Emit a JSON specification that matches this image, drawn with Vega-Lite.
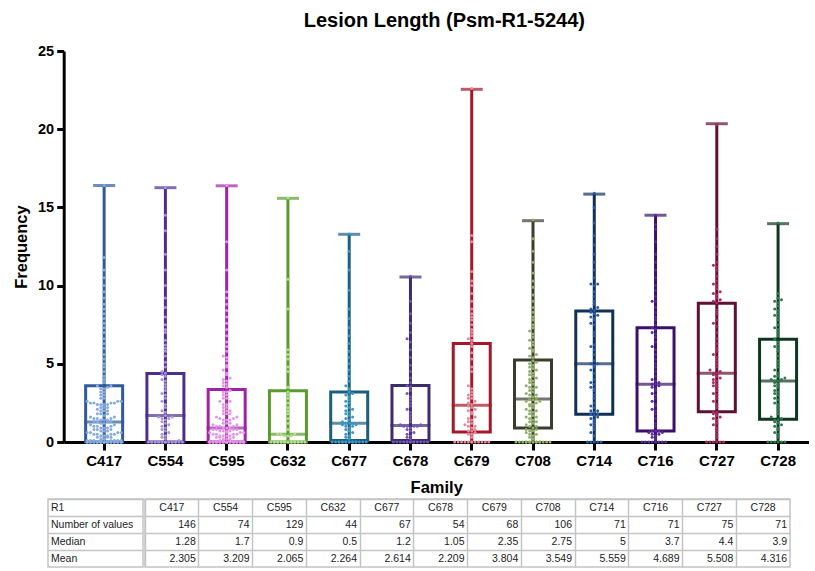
{
  "$schema": "https://vega.github.io/schema/vega-lite/v6.json",
  "background": "white",
  "padding": {"left": 13, "top": 11, "right": 0, "bottom": 0},
  "config": {"view": {"stroke": null}, "font": "Liberation Sans"},
  "spacing": 2,
  "center": false,
  "datasets": {
    "stats": [
      {"family": "C417", "Number of values": 146, "Median": 1.28, "Mean": 2.305, "q1": 0, "q3": 3.6, "min": 0, "max": 16.4},
      {"family": "C554", "Number of values": 74, "Median": 1.7, "Mean": 3.209, "q1": 0, "q3": 4.38, "min": 0, "max": 16.26},
      {"family": "C595", "Number of values": 129, "Median": 0.9, "Mean": 2.065, "q1": 0, "q3": 3.35, "min": 0, "max": 16.38},
      {"family": "C632", "Number of values": 44, "Median": 0.5, "Mean": 2.264, "q1": 0, "q3": 3.28, "min": 0, "max": 15.58},
      {"family": "C677", "Number of values": 67, "Median": 1.2, "Mean": 2.614, "q1": 0.1, "q3": 3.2, "min": 0, "max": 13.28},
      {"family": "C678", "Number of values": 54, "Median": 1.05, "Mean": 2.209, "q1": 0.1, "q3": 3.62, "min": 0, "max": 10.55},
      {"family": "C679", "Number of values": 68, "Median": 2.35, "Mean": 3.804, "q1": 0.64, "q3": 6.3, "min": 0, "max": 22.55},
      {"family": "C708", "Number of values": 106, "Median": 2.75, "Mean": 3.549, "q1": 0.9, "q3": 5.25, "min": 0, "max": 14.15},
      {"family": "C714", "Number of values": 71, "Median": 5, "Mean": 5.559, "q1": 1.77, "q3": 8.38, "min": 0, "max": 15.85},
      {"family": "C716", "Number of values": 71, "Median": 3.7, "Mean": 4.689, "q1": 0.7, "q3": 7.31, "min": 0, "max": 14.5},
      {"family": "C727", "Number of values": 75, "Median": 4.4, "Mean": 5.508, "q1": 1.94, "q3": 8.87, "min": 0, "max": 20.35},
      {"family": "C728", "Number of values": 71, "Median": 3.9, "Mean": 4.316, "q1": 1.45, "q3": 6.57, "min": 0, "max": 13.96}
    ],
    "pts": [
      {"f":"C417","v":0},{"f":"C417","v":0},{"f":"C417","v":0},{"f":"C417","v":0},{"f":"C417","v":0},{"f":"C417","v":0},{"f":"C417","v":0},{"f":"C417","v":0},{"f":"C417","v":0},{"f":"C417","v":0},
      {"f":"C417","v":0},{"f":"C417","v":0},{"f":"C417","v":0},{"f":"C417","v":0},{"f":"C417","v":0},{"f":"C417","v":0},{"f":"C417","v":0},{"f":"C417","v":0},{"f":"C417","v":0},{"f":"C417","v":0},
      {"f":"C417","v":0},{"f":"C417","v":0},{"f":"C417","v":0},{"f":"C417","v":0},{"f":"C417","v":0},{"f":"C417","v":0},{"f":"C417","v":0},{"f":"C417","v":0},{"f":"C417","v":0},{"f":"C417","v":0},
      {"f":"C417","v":0},{"f":"C417","v":0},{"f":"C417","v":0},{"f":"C417","v":0},{"f":"C417","v":0},{"f":"C417","v":0},{"f":"C417","v":0},
      {"f":"C417","v":0.1},{"f":"C417","v":0.1},{"f":"C417","v":0.1},{"f":"C417","v":0.1},{"f":"C417","v":0.1},{"f":"C417","v":0.1},{"f":"C417","v":0.1},
      {"f":"C417","v":0.2},{"f":"C417","v":0.2},{"f":"C417","v":0.3},{"f":"C417","v":0.3},{"f":"C417","v":0.3},{"f":"C417","v":0.4},{"f":"C417","v":0.4},{"f":"C417","v":0.4},
      {"f":"C417","v":0.5},{"f":"C417","v":0.5},{"f":"C417","v":0.5},{"f":"C417","v":0.5},{"f":"C417","v":0.6},{"f":"C417","v":0.6},{"f":"C417","v":0.6},{"f":"C417","v":0.6},
      {"f":"C417","v":0.7},{"f":"C417","v":0.7},{"f":"C417","v":0.7},{"f":"C417","v":0.8},{"f":"C417","v":0.8},{"f":"C417","v":0.8},{"f":"C417","v":0.9},{"f":"C417","v":0.9},{"f":"C417","v":0.9},
      {"f":"C417","v":1},{"f":"C417","v":1},{"f":"C417","v":1},{"f":"C417","v":1.1},{"f":"C417","v":1.1},{"f":"C417","v":1.2},{"f":"C417","v":1.2},
      {"f":"C417","v":1.3},{"f":"C417","v":1.3},{"f":"C417","v":1.3},{"f":"C417","v":1.3},{"f":"C417","v":1.4},{"f":"C417","v":1.4},{"f":"C417","v":1.4},
      {"f":"C417","v":1.5},{"f":"C417","v":1.5},{"f":"C417","v":1.5},{"f":"C417","v":1.6},{"f":"C417","v":1.6},{"f":"C417","v":1.7},
      {"f":"C417","v":1.8},{"f":"C417","v":1.8},{"f":"C417","v":1.8},{"f":"C417","v":2},{"f":"C417","v":2},{"f":"C417","v":2},{"f":"C417","v":2.1},
      {"f":"C417","v":2.2},{"f":"C417","v":2.2},{"f":"C417","v":2.2},{"f":"C417","v":2.4},{"f":"C417","v":2.4},{"f":"C417","v":2.4},{"f":"C417","v":2.4},
      {"f":"C417","v":2.5},{"f":"C417","v":2.5},{"f":"C417","v":2.5},{"f":"C417","v":2.5},{"f":"C417","v":2.6},{"f":"C417","v":2.6},{"f":"C417","v":2.6},
      {"f":"C417","v":2.8},{"f":"C417","v":2.8},{"f":"C417","v":3},{"f":"C417","v":3},{"f":"C417","v":3.2},{"f":"C417","v":3.2},{"f":"C417","v":3.4},{"f":"C417","v":3.4},{"f":"C417","v":3.5},
      {"f":"C417","v":3.6},{"f":"C417","v":3.6},{"f":"C417","v":3.8},{"f":"C417","v":4},{"f":"C417","v":4.2},{"f":"C417","v":4.5},{"f":"C417","v":4.8},{"f":"C417","v":5},{"f":"C417","v":5.3},{"f":"C417","v":5.6},
      {"f":"C417","v":6},{"f":"C417","v":6.3},{"f":"C417","v":6.6},{"f":"C417","v":7},{"f":"C417","v":7.3},{"f":"C417","v":7.6},{"f":"C417","v":7.9},{"f":"C417","v":8.2},{"f":"C417","v":8.5},{"f":"C417","v":8.8},
      {"f":"C417","v":9.2},{"f":"C417","v":9.6},{"f":"C417","v":10},{"f":"C417","v":10.5},{"f":"C417","v":11},{"f":"C417","v":11.8},{"f":"C417","v":16.4},

      {"f":"C554","v":0},{"f":"C554","v":0},{"f":"C554","v":0},{"f":"C554","v":0},{"f":"C554","v":0},{"f":"C554","v":0},{"f":"C554","v":0},{"f":"C554","v":0},{"f":"C554","v":0},{"f":"C554","v":0},
      {"f":"C554","v":0},{"f":"C554","v":0},{"f":"C554","v":0},{"f":"C554","v":0},{"f":"C554","v":0},{"f":"C554","v":0},{"f":"C554","v":0},{"f":"C554","v":0},{"f":"C554","v":0},
      {"f":"C554","v":0.1},{"f":"C554","v":0.2},{"f":"C554","v":0.3},{"f":"C554","v":0.4},{"f":"C554","v":0.5},{"f":"C554","v":0.6},{"f":"C554","v":0.7},{"f":"C554","v":0.8},{"f":"C554","v":0.9},
      {"f":"C554","v":1},{"f":"C554","v":1.1},{"f":"C554","v":1.2},{"f":"C554","v":1.3},{"f":"C554","v":1.4},{"f":"C554","v":1.5},{"f":"C554","v":1.5},{"f":"C554","v":1.6},{"f":"C554","v":1.6},
      {"f":"C554","v":1.7},{"f":"C554","v":1.9},{"f":"C554","v":2},{"f":"C554","v":2.2},{"f":"C554","v":2.4},{"f":"C554","v":2.6},{"f":"C554","v":2.8},{"f":"C554","v":3},{"f":"C554","v":3.1},
      {"f":"C554","v":3.3},{"f":"C554","v":3.5},{"f":"C554","v":3.7},{"f":"C554","v":3.9},{"f":"C554","v":4},{"f":"C554","v":4.2},{"f":"C554","v":4.3},{"f":"C554","v":4.4},
      {"f":"C554","v":4.5},{"f":"C554","v":4.8},{"f":"C554","v":5.1},{"f":"C554","v":5.5},{"f":"C554","v":5.8},{"f":"C554","v":6},{"f":"C554","v":6.2},{"f":"C554","v":6.5},{"f":"C554","v":7},{"f":"C554","v":7.2},
      {"f":"C554","v":7.5},{"f":"C554","v":8},{"f":"C554","v":8.6},{"f":"C554","v":9.2},{"f":"C554","v":10},{"f":"C554","v":11},{"f":"C554","v":12},{"f":"C554","v":13.5},{"f":"C554","v":14.5},{"f":"C554","v":16.25},

      {"f":"C595","v":0},{"f":"C595","v":0},{"f":"C595","v":0},{"f":"C595","v":0},{"f":"C595","v":0},{"f":"C595","v":0},{"f":"C595","v":0},{"f":"C595","v":0},{"f":"C595","v":0},{"f":"C595","v":0},
      {"f":"C595","v":0},{"f":"C595","v":0},{"f":"C595","v":0},{"f":"C595","v":0},{"f":"C595","v":0},{"f":"C595","v":0},{"f":"C595","v":0},{"f":"C595","v":0},{"f":"C595","v":0},{"f":"C595","v":0},
      {"f":"C595","v":0},{"f":"C595","v":0},{"f":"C595","v":0},{"f":"C595","v":0},{"f":"C595","v":0},{"f":"C595","v":0},{"f":"C595","v":0},{"f":"C595","v":0},{"f":"C595","v":0},{"f":"C595","v":0},
      {"f":"C595","v":0},{"f":"C595","v":0},{"f":"C595","v":0},{"f":"C595","v":0},
      {"f":"C595","v":0.1},{"f":"C595","v":0.1},{"f":"C595","v":0.1},{"f":"C595","v":0.2},{"f":"C595","v":0.2},{"f":"C595","v":0.2},{"f":"C595","v":0.3},{"f":"C595","v":0.3},{"f":"C595","v":0.3},
      {"f":"C595","v":0.4},{"f":"C595","v":0.4},{"f":"C595","v":0.4},{"f":"C595","v":0.4},{"f":"C595","v":0.5},{"f":"C595","v":0.5},{"f":"C595","v":0.5},{"f":"C595","v":0.5},
      {"f":"C595","v":0.6},{"f":"C595","v":0.6},{"f":"C595","v":0.6},{"f":"C595","v":0.6},{"f":"C595","v":0.7},{"f":"C595","v":0.7},{"f":"C595","v":0.7},{"f":"C595","v":0.7},
      {"f":"C595","v":0.8},{"f":"C595","v":0.8},{"f":"C595","v":0.8},{"f":"C595","v":0.8},{"f":"C595","v":0.9},{"f":"C595","v":0.9},{"f":"C595","v":0.9},
      {"f":"C595","v":1},{"f":"C595","v":1},{"f":"C595","v":1},{"f":"C595","v":1.1},{"f":"C595","v":1.1},{"f":"C595","v":1.2},{"f":"C595","v":1.2},{"f":"C595","v":1.2},
      {"f":"C595","v":1.4},{"f":"C595","v":1.4},{"f":"C595","v":1.4},{"f":"C595","v":1.5},{"f":"C595","v":1.5},{"f":"C595","v":1.6},{"f":"C595","v":1.6},
      {"f":"C595","v":1.8},{"f":"C595","v":1.8},{"f":"C595","v":1.8},{"f":"C595","v":2},{"f":"C595","v":2},{"f":"C595","v":2},{"f":"C595","v":2.2},{"f":"C595","v":2.2},
      {"f":"C595","v":2.4},{"f":"C595","v":2.4},{"f":"C595","v":2.6},{"f":"C595","v":2.6},{"f":"C595","v":2.8},{"f":"C595","v":2.8},{"f":"C595","v":3},{"f":"C595","v":3},{"f":"C595","v":3.2},{"f":"C595","v":3.2},{"f":"C595","v":3.3},
      {"f":"C595","v":3.5},{"f":"C595","v":3.6},{"f":"C595","v":3.7},{"f":"C595","v":3.8},{"f":"C595","v":3.9},{"f":"C595","v":4},{"f":"C595","v":4.1},{"f":"C595","v":4.3},{"f":"C595","v":4.4},{"f":"C595","v":4.6},
      {"f":"C595","v":4.8},{"f":"C595","v":4.9},{"f":"C595","v":5.2},{"f":"C595","v":5.4},{"f":"C595","v":5.5},{"f":"C595","v":5.8},{"f":"C595","v":6.1},{"f":"C595","v":6.4},{"f":"C595","v":6.8},{"f":"C595","v":7.2},
      {"f":"C595","v":7.6},{"f":"C595","v":8},{"f":"C595","v":8.4},{"f":"C595","v":8.8},{"f":"C595","v":9.2},{"f":"C595","v":9.6},{"f":"C595","v":11},{"f":"C595","v":12.8},{"f":"C595","v":16.4},

      {"f":"C632","v":0},{"f":"C632","v":0},{"f":"C632","v":0},{"f":"C632","v":0},{"f":"C632","v":0},{"f":"C632","v":0},{"f":"C632","v":0},{"f":"C632","v":0},{"f":"C632","v":0},{"f":"C632","v":0},
      {"f":"C632","v":0},{"f":"C632","v":0},{"f":"C632","v":0},{"f":"C632","v":0},{"f":"C632","v":0},{"f":"C632","v":0},{"f":"C632","v":0},{"f":"C632","v":0},{"f":"C632","v":0},
      {"f":"C632","v":0.4},{"f":"C632","v":0.4},{"f":"C632","v":0.4},{"f":"C632","v":0.5},{"f":"C632","v":0.5},{"f":"C632","v":0.5},
      {"f":"C632","v":0.8},{"f":"C632","v":1.2},{"f":"C632","v":1.5},{"f":"C632","v":1.8},{"f":"C632","v":2},{"f":"C632","v":2.2},{"f":"C632","v":2.5},{"f":"C632","v":2.8},{"f":"C632","v":3},{"f":"C632","v":3.2},
      {"f":"C632","v":3.5},{"f":"C632","v":4.5},{"f":"C632","v":4.8},{"f":"C632","v":5.3},{"f":"C632","v":5.6},{"f":"C632","v":5.9},{"f":"C632","v":8.5},{"f":"C632","v":10.4},{"f":"C632","v":15.6},

      {"f":"C677","v":0},{"f":"C677","v":0},{"f":"C677","v":0},{"f":"C677","v":0},{"f":"C677","v":0},{"f":"C677","v":0},{"f":"C677","v":0},{"f":"C677","v":0},{"f":"C677","v":0},{"f":"C677","v":0},
      {"f":"C677","v":0},{"f":"C677","v":0},{"f":"C677","v":0},{"f":"C677","v":0},{"f":"C677","v":0},{"f":"C677","v":0},{"f":"C677","v":0},
      {"f":"C677","v":0.2},{"f":"C677","v":0.3},{"f":"C677","v":0.4},{"f":"C677","v":0.5},{"f":"C677","v":0.6},{"f":"C677","v":0.7},{"f":"C677","v":0.8},{"f":"C677","v":0.9},
      {"f":"C677","v":1},{"f":"C677","v":1},{"f":"C677","v":1.1},{"f":"C677","v":1.1},{"f":"C677","v":1.2},{"f":"C677","v":1.2},{"f":"C677","v":1.2},{"f":"C677","v":1.3},
      {"f":"C677","v":1.4},{"f":"C677","v":1.5},{"f":"C677","v":1.6},{"f":"C677","v":1.7},{"f":"C677","v":1.8},{"f":"C677","v":1.9},{"f":"C677","v":2},{"f":"C677","v":2.1},{"f":"C677","v":2.2},
      {"f":"C677","v":2.3},{"f":"C677","v":2.5},{"f":"C677","v":2.6},{"f":"C677","v":2.7},{"f":"C677","v":2.9},{"f":"C677","v":3},{"f":"C677","v":3.1},{"f":"C677","v":3.2},
      {"f":"C677","v":3.4},{"f":"C677","v":3.6},{"f":"C677","v":3.9},{"f":"C677","v":4.2},{"f":"C677","v":4.6},{"f":"C677","v":5},{"f":"C677","v":5.4},{"f":"C677","v":5.8},{"f":"C677","v":6.3},
      {"f":"C677","v":6.8},{"f":"C677","v":7.3},{"f":"C677","v":7.9},{"f":"C677","v":8.5},{"f":"C677","v":9.7},{"f":"C677","v":11},{"f":"C677","v":12.2},{"f":"C677","v":13.3},

      {"f":"C678","v":0},{"f":"C678","v":0},{"f":"C678","v":0},{"f":"C678","v":0},{"f":"C678","v":0},{"f":"C678","v":0},{"f":"C678","v":0},{"f":"C678","v":0},{"f":"C678","v":0},{"f":"C678","v":0},
      {"f":"C678","v":0},{"f":"C678","v":0},{"f":"C678","v":0},{"f":"C678","v":0},
      {"f":"C678","v":0.2},{"f":"C678","v":0.3},{"f":"C678","v":0.4},{"f":"C678","v":0.5},{"f":"C678","v":0.6},{"f":"C678","v":0.7},{"f":"C678","v":0.8},{"f":"C678","v":0.9},
      {"f":"C678","v":1},{"f":"C678","v":1},{"f":"C678","v":1},{"f":"C678","v":1},{"f":"C678","v":1.1},{"f":"C678","v":1.1},
      {"f":"C678","v":1.3},{"f":"C678","v":1.5},{"f":"C678","v":1.7},{"f":"C678","v":1.9},{"f":"C678","v":2.1},{"f":"C678","v":2.3},{"f":"C678","v":2.5},{"f":"C678","v":2.7},{"f":"C678","v":2.9},
      {"f":"C678","v":3.1},{"f":"C678","v":3.3},{"f":"C678","v":3.5},{"f":"C678","v":3.6},
      {"f":"C678","v":3.8},{"f":"C678","v":4.1},{"f":"C678","v":4.5},{"f":"C678","v":4.9},{"f":"C678","v":5.4},{"f":"C678","v":5.9},{"f":"C678","v":6.4},{"f":"C678","v":6.6},{"f":"C678","v":7},
      {"f":"C678","v":7.6},{"f":"C678","v":8.2},{"f":"C678","v":9},{"f":"C678","v":10.6},

      {"f":"C679","v":0},{"f":"C679","v":0},{"f":"C679","v":0},{"f":"C679","v":0},{"f":"C679","v":0},{"f":"C679","v":0},{"f":"C679","v":0},{"f":"C679","v":0},{"f":"C679","v":0},{"f":"C679","v":0},
      {"f":"C679","v":0},{"f":"C679","v":0},
      {"f":"C679","v":0.3},{"f":"C679","v":0.5},{"f":"C679","v":0.5},{"f":"C679","v":0.6},{"f":"C679","v":0.7},{"f":"C679","v":0.7},
      {"f":"C679","v":0.8},{"f":"C679","v":0.9},{"f":"C679","v":1},{"f":"C679","v":1},{"f":"C679","v":1.1},{"f":"C679","v":1.2},{"f":"C679","v":1.3},{"f":"C679","v":1.4},
      {"f":"C679","v":1.5},{"f":"C679","v":1.6},{"f":"C679","v":1.8},{"f":"C679","v":1.9},{"f":"C679","v":2},{"f":"C679","v":2.1},{"f":"C679","v":2.2},{"f":"C679","v":2.3},
      {"f":"C679","v":2.4},{"f":"C679","v":2.5},{"f":"C679","v":2.6},{"f":"C679","v":2.8},{"f":"C679","v":2.8},{"f":"C679","v":3},{"f":"C679","v":3},{"f":"C679","v":3.2},
      {"f":"C679","v":3.4},{"f":"C679","v":3.6},{"f":"C679","v":4.5},{"f":"C679","v":4.8},{"f":"C679","v":5.3},{"f":"C679","v":5.7},{"f":"C679","v":6.1},{"f":"C679","v":6.3},
      {"f":"C679","v":6.5},{"f":"C679","v":6.6},{"f":"C679","v":6.8},{"f":"C679","v":7},{"f":"C679","v":7.2},{"f":"C679","v":7.5},{"f":"C679","v":7.8},{"f":"C679","v":8},{"f":"C679","v":8.2},
      {"f":"C679","v":8.5},{"f":"C679","v":9},{"f":"C679","v":9.5},{"f":"C679","v":10},{"f":"C679","v":10.3},{"f":"C679","v":10.9},{"f":"C679","v":12.8},{"f":"C679","v":13.2},{"f":"C679","v":22.6},

      {"f":"C708","v":0},{"f":"C708","v":0},{"f":"C708","v":0},{"f":"C708","v":0},{"f":"C708","v":0},{"f":"C708","v":0},{"f":"C708","v":0},{"f":"C708","v":0},{"f":"C708","v":0},{"f":"C708","v":0},
      {"f":"C708","v":0},{"f":"C708","v":0},{"f":"C708","v":0},{"f":"C708","v":0},{"f":"C708","v":0},{"f":"C708","v":0},
      {"f":"C708","v":0.2},{"f":"C708","v":0.3},{"f":"C708","v":0.4},{"f":"C708","v":0.5},{"f":"C708","v":0.5},{"f":"C708","v":0.6},{"f":"C708","v":0.7},{"f":"C708","v":0.7},{"f":"C708","v":0.8},{"f":"C708","v":0.8},{"f":"C708","v":0.9},
      {"f":"C708","v":1},{"f":"C708","v":1},{"f":"C708","v":1.1},{"f":"C708","v":1.2},{"f":"C708","v":1.3},{"f":"C708","v":1.3},{"f":"C708","v":1.4},{"f":"C708","v":1.5},{"f":"C708","v":1.6},{"f":"C708","v":1.6},
      {"f":"C708","v":1.7},{"f":"C708","v":1.8},{"f":"C708","v":1.9},{"f":"C708","v":2},{"f":"C708","v":2},{"f":"C708","v":2.1},{"f":"C708","v":2.2},{"f":"C708","v":2.3},{"f":"C708","v":2.4},{"f":"C708","v":2.4},
      {"f":"C708","v":2.5},{"f":"C708","v":2.6},{"f":"C708","v":2.6},{"f":"C708","v":2.7},{"f":"C708","v":2.7},{"f":"C708","v":2.8},
      {"f":"C708","v":2.9},{"f":"C708","v":3},{"f":"C708","v":3},{"f":"C708","v":3.1},{"f":"C708","v":3.2},{"f":"C708","v":3.3},{"f":"C708","v":3.4},{"f":"C708","v":3.5},{"f":"C708","v":3.5},{"f":"C708","v":3.6},
      {"f":"C708","v":3.7},{"f":"C708","v":3.8},{"f":"C708","v":3.9},{"f":"C708","v":4},{"f":"C708","v":4.1},{"f":"C708","v":4.2},{"f":"C708","v":4.3},{"f":"C708","v":4.4},{"f":"C708","v":4.5},{"f":"C708","v":4.6},
      {"f":"C708","v":4.7},{"f":"C708","v":4.8},{"f":"C708","v":4.9},{"f":"C708","v":5},{"f":"C708","v":5.1},{"f":"C708","v":5.2},
      {"f":"C708","v":5.4},{"f":"C708","v":5.5},{"f":"C708","v":5.6},{"f":"C708","v":5.8},{"f":"C708","v":5.9},{"f":"C708","v":6},{"f":"C708","v":6.2},{"f":"C708","v":6.4},{"f":"C708","v":6.5},{"f":"C708","v":6.7},
      {"f":"C708","v":6.9},{"f":"C708","v":7.1},{"f":"C708","v":7.3},{"f":"C708","v":7.5},{"f":"C708","v":7.8},{"f":"C708","v":8},{"f":"C708","v":8.3},{"f":"C708","v":8.6},{"f":"C708","v":9},{"f":"C708","v":9.4},
      {"f":"C708","v":9.9},{"f":"C708","v":10.3},{"f":"C708","v":10.8},{"f":"C708","v":11.5},{"f":"C708","v":12.2},{"f":"C708","v":13},{"f":"C708","v":14.2},

      {"f":"C714","v":0},{"f":"C714","v":0},{"f":"C714","v":0},{"f":"C714","v":0},{"f":"C714","v":0},
      {"f":"C714","v":0.4},{"f":"C714","v":0.6},{"f":"C714","v":0.8},{"f":"C714","v":1},{"f":"C714","v":1.1},{"f":"C714","v":1.2},{"f":"C714","v":1.4},{"f":"C714","v":1.5},{"f":"C714","v":1.6},{"f":"C714","v":1.7},{"f":"C714","v":1.8},{"f":"C714","v":1.8},
      {"f":"C714","v":1.9},{"f":"C714","v":2},{"f":"C714","v":2},{"f":"C714","v":2.2},{"f":"C714","v":2.3},{"f":"C714","v":2.5},{"f":"C714","v":2.8},{"f":"C714","v":3},{"f":"C714","v":3.3},{"f":"C714","v":3.4},
      {"f":"C714","v":3.5},{"f":"C714","v":3.7},{"f":"C714","v":3.8},{"f":"C714","v":4},{"f":"C714","v":4.4},{"f":"C714","v":4.6},{"f":"C714","v":4.8},{"f":"C714","v":4.9},{"f":"C714","v":5},
      {"f":"C714","v":5},{"f":"C714","v":5.2},{"f":"C714","v":5.6},{"f":"C714","v":5.9},{"f":"C714","v":6.1},{"f":"C714","v":6.2},{"f":"C714","v":6.8},{"f":"C714","v":7},{"f":"C714","v":7.5},
      {"f":"C714","v":7.6},{"f":"C714","v":7.8},{"f":"C714","v":7.9},{"f":"C714","v":8},{"f":"C714","v":8.1},{"f":"C714","v":8.2},{"f":"C714","v":8.3},{"f":"C714","v":8.4},
      {"f":"C714","v":8.5},{"f":"C714","v":8.6},{"f":"C714","v":8.8},{"f":"C714","v":9},{"f":"C714","v":9.3},{"f":"C714","v":9.6},{"f":"C714","v":10},{"f":"C714","v":10.1},{"f":"C714","v":10.1},
      {"f":"C714","v":10.5},{"f":"C714","v":11},{"f":"C714","v":11.5},{"f":"C714","v":12},{"f":"C714","v":12.6},{"f":"C714","v":13.2},{"f":"C714","v":14},{"f":"C714","v":15},{"f":"C714","v":15.9},

      {"f":"C716","v":0},{"f":"C716","v":0},{"f":"C716","v":0},{"f":"C716","v":0},{"f":"C716","v":0},{"f":"C716","v":0},{"f":"C716","v":0},{"f":"C716","v":0},
      {"f":"C716","v":0.2},{"f":"C716","v":0.3},{"f":"C716","v":0.4},{"f":"C716","v":0.5},{"f":"C716","v":0.5},{"f":"C716","v":0.6},{"f":"C716","v":0.6},{"f":"C716","v":0.7},{"f":"C716","v":0.7},{"f":"C716","v":0.7},
      {"f":"C716","v":1},{"f":"C716","v":1.2},{"f":"C716","v":1.5},{"f":"C716","v":1.8},{"f":"C716","v":2},{"f":"C716","v":2.1},{"f":"C716","v":2.3},{"f":"C716","v":2.4},{"f":"C716","v":2.6},
      {"f":"C716","v":2.8},{"f":"C716","v":3},{"f":"C716","v":3.1},{"f":"C716","v":3.3},{"f":"C716","v":3.4},{"f":"C716","v":3.5},{"f":"C716","v":3.6},{"f":"C716","v":3.7},{"f":"C716","v":3.7},
      {"f":"C716","v":3.8},{"f":"C716","v":3.9},{"f":"C716","v":4},{"f":"C716","v":4.2},{"f":"C716","v":4.5},{"f":"C716","v":4.8},{"f":"C716","v":5},{"f":"C716","v":5.3},{"f":"C716","v":5.6},
      {"f":"C716","v":5.9},{"f":"C716","v":6.1},{"f":"C716","v":6.4},{"f":"C716","v":6.7},{"f":"C716","v":6.9},{"f":"C716","v":7},{"f":"C716","v":7.2},{"f":"C716","v":7.3},
      {"f":"C716","v":7.5},{"f":"C716","v":7.8},{"f":"C716","v":8},{"f":"C716","v":8.3},{"f":"C716","v":8.6},{"f":"C716","v":9},{"f":"C716","v":9},{"f":"C716","v":9.3},{"f":"C716","v":9.7},
      {"f":"C716","v":10},{"f":"C716","v":10.5},{"f":"C716","v":11},{"f":"C716","v":11.5},{"f":"C716","v":12},{"f":"C716","v":12.8},{"f":"C716","v":13.6},{"f":"C716","v":13.9},{"f":"C716","v":14.5},

      {"f":"C727","v":0},{"f":"C727","v":0},{"f":"C727","v":0},{"f":"C727","v":0},{"f":"C727","v":0},{"f":"C727","v":0},
      {"f":"C727","v":0.3},{"f":"C727","v":0.5},{"f":"C727","v":0.7},{"f":"C727","v":0.9},{"f":"C727","v":1.1},{"f":"C727","v":1.2},{"f":"C727","v":1.4},{"f":"C727","v":1.5},{"f":"C727","v":1.6},
      {"f":"C727","v":1.7},{"f":"C727","v":1.8},{"f":"C727","v":1.9},{"f":"C727","v":1.9},
      {"f":"C727","v":2.2},{"f":"C727","v":2.4},{"f":"C727","v":2.6},{"f":"C727","v":2.8},{"f":"C727","v":3},{"f":"C727","v":3.1},{"f":"C727","v":3.3},{"f":"C727","v":3.5},{"f":"C727","v":3.6},
      {"f":"C727","v":3.7},{"f":"C727","v":3.8},{"f":"C727","v":3.9},{"f":"C727","v":4},{"f":"C727","v":4.1},{"f":"C727","v":4.2},{"f":"C727","v":4.3},{"f":"C727","v":4.4},{"f":"C727","v":4.4},
      {"f":"C727","v":4.5},{"f":"C727","v":4.6},{"f":"C727","v":4.8},{"f":"C727","v":5},{"f":"C727","v":5.2},{"f":"C727","v":5.4},{"f":"C727","v":5.6},{"f":"C727","v":5.8},{"f":"C727","v":6},
      {"f":"C727","v":6.3},{"f":"C727","v":6.6},{"f":"C727","v":7},{"f":"C727","v":7.4},{"f":"C727","v":7.6},{"f":"C727","v":7.8},{"f":"C727","v":8.2},{"f":"C727","v":8.4},{"f":"C727","v":8.9},
      {"f":"C727","v":9},{"f":"C727","v":9.1},{"f":"C727","v":9.2},{"f":"C727","v":9.4},{"f":"C727","v":9.5},{"f":"C727","v":9.6},{"f":"C727","v":9.8},{"f":"C727","v":10},{"f":"C727","v":10.1},{"f":"C727","v":10.3},
      {"f":"C727","v":10.6},{"f":"C727","v":11},{"f":"C727","v":11.2},{"f":"C727","v":11.3},{"f":"C727","v":11.5},{"f":"C727","v":12},{"f":"C727","v":12.5},{"f":"C727","v":13},{"f":"C727","v":13.6},{"f":"C727","v":20.3},

      {"f":"C728","v":0},{"f":"C728","v":0},{"f":"C728","v":0},{"f":"C728","v":0},{"f":"C728","v":0},{"f":"C728","v":0},
      {"f":"C728","v":0.3},{"f":"C728","v":0.5},{"f":"C728","v":0.6},{"f":"C728","v":0.8},{"f":"C728","v":0.9},{"f":"C728","v":1},{"f":"C728","v":1.1},{"f":"C728","v":1.2},{"f":"C728","v":1.3},
      {"f":"C728","v":1.4},{"f":"C728","v":1.4},{"f":"C728","v":1.5},
      {"f":"C728","v":1.6},{"f":"C728","v":1.8},{"f":"C728","v":2},{"f":"C728","v":2.2},{"f":"C728","v":2.4},{"f":"C728","v":2.5},{"f":"C728","v":2.7},{"f":"C728","v":2.8},{"f":"C728","v":3},
      {"f":"C728","v":3.1},{"f":"C728","v":3.2},{"f":"C728","v":3.3},{"f":"C728","v":3.5},{"f":"C728","v":3.6},{"f":"C728","v":3.7},{"f":"C728","v":3.8},{"f":"C728","v":3.9},{"f":"C728","v":3.9},
      {"f":"C728","v":4},{"f":"C728","v":4},{"f":"C728","v":4.1},{"f":"C728","v":4.2},{"f":"C728","v":4.2},{"f":"C728","v":4.4},{"f":"C728","v":4.6},{"f":"C728","v":4.8},{"f":"C728","v":5},
      {"f":"C728","v":5.2},{"f":"C728","v":5.5},{"f":"C728","v":5.8},{"f":"C728","v":6},{"f":"C728","v":6.1},{"f":"C728","v":6.2},{"f":"C728","v":6.4},{"f":"C728","v":6.6},
      {"f":"C728","v":6.8},{"f":"C728","v":7},{"f":"C728","v":7.2},{"f":"C728","v":7.3},{"f":"C728","v":7.5},{"f":"C728","v":7.8},{"f":"C728","v":8},{"f":"C728","v":8.1},{"f":"C728","v":8.2},
      {"f":"C728","v":8.4},{"f":"C728","v":8.5},{"f":"C728","v":8.7},{"f":"C728","v":8.9},{"f":"C728","v":9},{"f":"C728","v":9.1},{"f":"C728","v":9.2},{"f":"C728","v":9.5},{"f":"C728","v":14}
    ]
  },
  "vconcat": [
    {
      "width": 760.7,
      "height": 391,
      "title": {"text": "Lesion Length (Psm-R1-5244)", "font": "Liberation Sans", "fontSize": 20, "fontWeight": "bold", "color": "black", "anchor": "middle", "frame": "group", "dx": 16, "offset": 12},
      "data": {"name": "stats"},
      "encoding": {
        "x": {
          "field": "family", "type": "nominal",
          "scale": {"type": "band", "domain": ["C417","C554","C595","C632","C677","C678","C679","C708","C714","C716","C727","C728"], "range": [15.7, 760.7], "paddingInner": 0, "paddingOuter": 0.08, "align": 1},
          "axis": {"title": "Family", "labelAngle": 0, "domainWidth": 3, "domainColor": "black", "tickWidth": 3, "tickColor": "black", "tickSize": 8, "labelFont": "Liberation Sans", "labelFontSize": 15, "labelFontWeight": "bold", "labelColor": "black", "labelPadding": 3, "titleFont": "Liberation Sans", "titleFontSize": 16.5, "titleFontWeight": "bold", "titleColor": "black", "titlePadding": 11}
        }
      },
      "layer": [
        {
          "mark": {"type": "rule", "strokeWidth": 3},
          "encoding": {
            "y": {"field": "min", "type": "quantitative", "scale": {"domain": [0, 25], "nice": false}, "axis": {"title": "Frequency", "offset": -15.7, "values": [0, 5, 10, 15, 20, 25], "grid": false, "domainWidth": 3, "domainColor": "black", "tickWidth": 3, "tickColor": "black", "tickSize": 7, "labelFont": "Liberation Sans", "labelFontSize": 14.5, "labelFontWeight": "bold", "labelColor": "black", "labelPadding": 3, "titleFont": "Liberation Sans", "titleFontSize": 16.5, "titleFontWeight": "bold", "titleColor": "black", "titlePadding": 8}},
            "y2": {"field": "max"},
            "color": {"field": "family", "type": "nominal", "legend": null, "scale": {"domain": ["C417","C554","C595","C632","C677","C678","C679","C708","C714","C716","C727","C728"], "range": ["#2f5b9c","#4b2f8e","#a022a6","#5a9c2c","#1c5e7e","#3c2c6c","#a3182a","#3a3c30","#0f3158","#3a1068","#5e1035","#0f3620"]}}
          }
        },
        {
          "mark": {"type": "bar", "filled": false, "strokeWidth": 3, "size": 37},
          "encoding": {
            "y": {"field": "q1", "type": "quantitative"},
            "y2": {"field": "q3"},
            "color": {"field": "family", "type": "nominal", "legend": null}
          }
        },
        {
          "mark": {"type": "tick", "thickness": 3, "size": 40},
          "encoding": {
            "y": {"field": "Median", "type": "quantitative"},
            "color": {"field": "family", "type": "nominal", "legend": null}
          }
        },
        {
          "mark": {"type": "tick", "thickness": 3, "size": 22},
          "encoding": {
            "y": {"field": "max", "type": "quantitative"},
            "color": {"field": "family", "type": "nominal", "legend": null}
          }
        },
        {
          "data": {"name": "pts"},
          "transform": [
            {"calculate": "round(datum.v*4)", "as": "bin"},
            {"window": [{"op": "row_number", "as": "k"}], "groupby": ["f", "bin"]},
            {"calculate": "(datum.k-1)%11", "as": "m"},
            {"calculate": "(datum.m%2==0?1:-1)*ceil(datum.m/2)*3.4", "as": "jit"}
          ],
          "mark": {"type": "point", "filled": true, "size": 9, "opacity": 1, "strokeWidth": 0},
          "encoding": {
            "x": {"field": "f", "type": "nominal"},
            "xOffset": {"field": "jit", "type": "quantitative", "scale": {"domain": [-30.6, 30.6]}},
            "y": {"field": "v", "type": "quantitative"},
            "fill": {"field": "f", "type": "nominal", "legend": null, "scale": {"domain": ["C417","C554","C595","C632","C677","C678","C679","C708","C714","C716","C727","C728"], "range": ["#86aade","#a994dc","#e496e6","#b4dc8c","#3a98c6","#7456b8","#e8889a","#90b264","#2e5aa6","#5a2c9e","#ac2a5e","#2c7a4c"]}}
          }
        }
      ]
    },
    {
      "spacing": 0,
      "hconcat": [
        {
          "width": 95,
          "height": 68,
          "view": {"stroke": "#c4c4c4", "strokeWidth": 1.5},
          "data": {"values": [{"r": "R1"}, {"r": "Number of values"}, {"r": "Median"}, {"r": "Mean"}]},
          "mark": {"type": "text", "align": "left", "dx": 3, "font": "Liberation Sans", "fontSize": 10.5, "color": "#222222"},
          "encoding": {
            "y": {"field": "r", "type": "nominal", "scale": {"type": "band", "domain": ["R1", "Number of values", "Median", "Mean"], "paddingInner": 0, "paddingOuter": 0}, "axis": {"title": null, "labels": false, "ticks": false, "domain": false, "grid": true, "bandPosition": 0, "gridColor": "#c4c4c4", "gridWidth": 1.5, "gridOpacity": 1, "minExtent": 0, "maxExtent": 0}},
            "x": {"datum": "lab", "type": "nominal", "bandPosition": 0, "scale": {"type": "band", "paddingInner": 0, "paddingOuter": 0}, "axis": null},
            "text": {"field": "r"}
          }
        },
        {
          "width": 645,
          "height": 68,
          "view": {"stroke": "#c4c4c4", "strokeWidth": 1.5},
          "data": {"name": "stats"},
          "encoding": {
            "x": {"field": "family", "type": "nominal", "scale": {"type": "band", "domain": ["C417","C554","C595","C632","C677","C678","C679","C708","C714","C716","C727","C728"], "paddingInner": 0, "paddingOuter": 0}, "axis": {"title": null, "labels": false, "ticks": false, "domain": false, "grid": true, "bandPosition": 0, "gridColor": "#c4c4c4", "gridWidth": 1.5, "gridOpacity": 1, "minExtent": 0, "maxExtent": 0}}
          },
          "layer": [
            {
              "transform": [{"fold": ["Number of values", "Median", "Mean"], "as": ["row", "val"]}],
              "mark": {"type": "text", "align": "right", "dx": -3, "font": "Liberation Sans", "fontSize": 10.5, "color": "#222222"},
              "encoding": {
                "x": {"field": "family", "type": "nominal", "bandPosition": 1},
                "y": {"field": "row", "type": "nominal", "scale": {"type": "band", "domain": ["R1", "Number of values", "Median", "Mean"], "paddingInner": 0, "paddingOuter": 0}, "axis": {"title": null, "labels": false, "ticks": false, "domain": false, "grid": true, "bandPosition": 0, "gridColor": "#c4c4c4", "gridWidth": 1.5, "gridOpacity": 1, "minExtent": 0, "maxExtent": 0}},
                "text": {"field": "val", "type": "nominal"}
              }
            },
            {
              "mark": {"type": "text", "align": "center", "font": "Liberation Sans", "fontSize": 10.5, "color": "#222222"},
              "encoding": {"y": {"datum": "R1", "type": "nominal"}, "text": {"field": "family"}}
            }
          ]
        }
      ]
    }
  ]
}
